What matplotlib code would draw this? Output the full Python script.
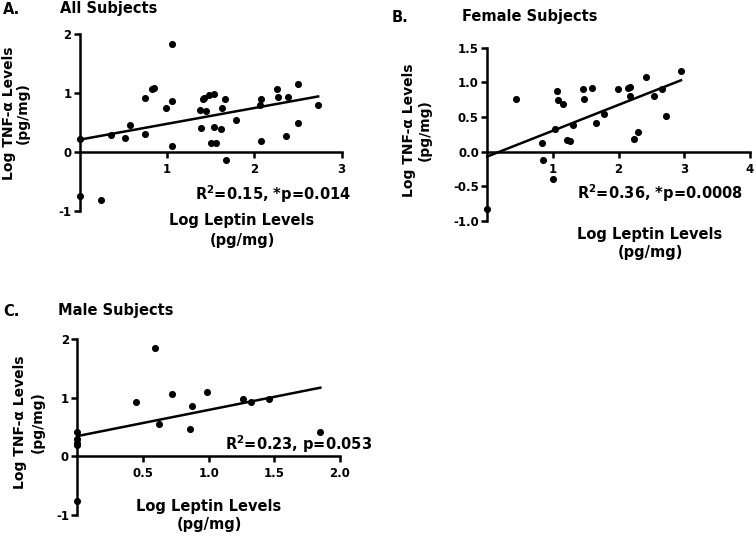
import matplotlib
matplotlib.use("Agg")
import matplotlib.pyplot as plt
import numpy as np

plt.rcParams['font.family'] = ['DejaVu Sans']
plt.rcParams['font.weight'] = 'bold'
plt.rcParams['mathtext.default'] = 'bf'

# ---------------- data ----------------
# Panel A: all subjects
a_x = [0.00, 0.00, 0.24, 0.36, 0.52, 0.57, 0.74, 0.75, 0.83, 0.85, 0.99, 1.05, 1.05, 1.05,
       1.38, 1.39, 1.41, 1.42, 1.44, 1.48, 1.50, 1.54, 1.54, 1.56, 1.62, 1.63, 1.66, 1.67,
       1.79, 2.06, 2.07, 2.08, 2.26, 2.27, 2.36, 2.39, 2.50, 2.50, 2.73]
a_y = [0.22, -0.74, -0.82, 0.29, 0.23, 0.46, 0.31, 0.92, 1.07, 1.09, 0.74, 0.86, 1.83, 0.11,
       0.72, 0.41, 0.89, 0.92, 0.69, 0.97, 0.15, 0.42, 0.98, 0.15, 0.39, 0.75, 0.90, -0.13,
       0.54, 0.80, 0.18, 0.90, 1.06, 0.93, 0.27, 0.93, 1.15, 0.49, 0.79]
a_fit = (0.21, 0.268)          # intercept, slope
a_stats = "R$^{2}$=0.15, *p=0.014"

# Panel B: female subjects
b_x = [0.00, 0.44, 0.83, 0.85, 1.00, 1.03, 1.06, 1.07, 1.16, 1.21, 1.26, 1.30, 1.46, 1.47,
       1.60, 1.66, 1.77, 1.99, 2.14, 2.18, 2.18, 2.24, 2.30, 2.41, 2.54, 2.66, 2.72, 2.95]
b_y = [-0.82, 0.76, 0.12, -0.12, -0.39, 0.32, 0.88, 0.74, 0.69, 0.17, 0.15, 0.39, 0.90, 0.76,
       0.92, 0.42, 0.55, 0.91, 0.92, 0.93, 0.81, 0.19, 0.28, 1.08, 0.80, 0.91, 0.51, 1.16]
b_fit = (-0.07, 0.373)
b_stats = "R$^{2}$=0.36, *p=0.0008"

# Panel C: male subjects
c_x = [0.00, 0.00, 0.00, 0.00, 0.00, 0.45, 0.59, 0.62, 0.72, 0.86, 0.87, 0.99, 1.26, 1.32,
       1.46, 1.85]
c_y = [0.41, 0.29, 0.23, 0.20, -0.76, 0.92, 1.85, 0.55, 1.07, 0.46, 0.86, 1.10, 0.97, 0.92,
       0.98, 0.41]
c_fit = (0.345, 0.446)
c_stats = "R$^{2}$=0.23, p=0.053"

a_xticks = [1, 2, 3]
a_yticks = [-1, 0, 1, 2]
b_xticks = [1, 2, 3, 4]
b_yticks = [-1.0, -0.5, 0.0, 0.5, 1.0, 1.5]
c_xticks = [0.5, 1.0, 1.5, 2.0]
c_yticks = [-1, 0, 1, 2]

xlabel = ["Log Leptin Levels", "(pg/mg)"]
ylabel = ["Log TNF-\u03b1 Levels", "(pg/mg)"]

# ---------------- figure ----------------
W, H = 756, 537
fig = plt.figure(figsize=(W / 100, H / 100), dpi=100)


def fx(px):
    return px / W


def fy(py):
    return 1 - py / H


def make_axes(x0, x1, ytop, ybot, xlim, ylim, xticks, yticks, xfmt, yfmt):
    ax = fig.add_axes([fx(x0), fy(ybot), fx(x1 - x0), (ybot - ytop) / H])
    ax.set_xlim(*xlim)
    ax.set_ylim(*ylim)
    for s in ['top', 'right']:
        ax.spines[s].set_visible(False)
    ax.spines['bottom'].set_position(('data', 0))
    ax.spines['left'].set_position(('data', xlim[0]))
    for s in ['bottom', 'left']:
        ax.spines[s].set_linewidth(1.8)
    ax.set_xticks(xticks)
    ax.set_yticks(yticks)
    ax.set_xticklabels([xfmt.format(v) for v in xticks])
    ax.set_yticklabels([yfmt.format(v) for v in yticks])
    ax.tick_params(axis='both', direction='out', length=4, width=1.8,
                   labelsize=8.5, colors='black')
    ax.tick_params(axis='x', pad=4)
    ax.tick_params(axis='y', pad=2)
    for lab in ax.get_xticklabels() + ax.get_yticklabels():
        lab.set_fontweight('bold')
    ax.patch.set_visible(False)
    return ax


def draw(ax, xs, ys, fit):
    ax.scatter(xs, ys, s=26, color='black', zorder=3, clip_on=False, linewidths=0)
    b0, b1 = fit
    lx = np.array([min(xs), max(xs)])
    ax.plot(lx, b0 + b1 * lx, color='black', lw=1.8, zorder=2, clip_on=False)


axA = make_axes(80, 341.7, 34, 211, (0, 3), (-1, 2), a_xticks, a_yticks, "{:g}", "{:g}")
draw(axA, a_x, a_y, a_fit)
axB = make_axes(487.3, 750, 47.7, 221, (0, 4), (-1.0, 1.5), b_xticks, b_yticks, "{:g}", "{:.1f}")
draw(axB, b_x, b_y, b_fit)
axC = make_axes(77.3, 340, 339, 515, (0, 2), (-1, 2), c_xticks, c_yticks, "{:.1f}", "{:g}")
draw(axC, c_x, c_y, c_fit)


def t(px, py, s, size, ha='center', rot=0):
    fig.text(fx(px), fy(py), s, ha=ha, va='center', fontsize=size,
             fontweight='bold', rotation=rot, rotation_mode='anchor' if rot == 0 else 'default')


# titles
t(3, 9, "A.", 10.5, ha='left')
t(60, 9, "All Subjects", 10.5, ha='left')
t(392, 17, "B.", 10.5, ha='left')
t(462, 17, "Female Subjects", 10.5, ha='left')
t(3, 311, "C.", 10.5, ha='left')
t(58, 311, "Male Subjects", 10.5, ha='left')

# x labels
for cx, y1, y2 in [(242, 220, 240), (650, 234, 253), (209, 507, 525)]:
    t(cx, y1, xlabel[0], 10.5)
    t(cx, y2, xlabel[1], 10.5)

# y labels
for x1, x2, cy in [(9, 22.5, 113), (409, 425, 130), (20, 38, 422)]:
    t(x1, cy, ylabel[0], 10, rot=90)
    t(x2, cy, ylabel[1], 10, rot=90)

# stats
t(273, 194, a_stats, 10.5)
t(660, 193, b_stats, 10.5)
t(299, 444, c_stats, 10.5)

fig.savefig("out.png", dpi=100)
